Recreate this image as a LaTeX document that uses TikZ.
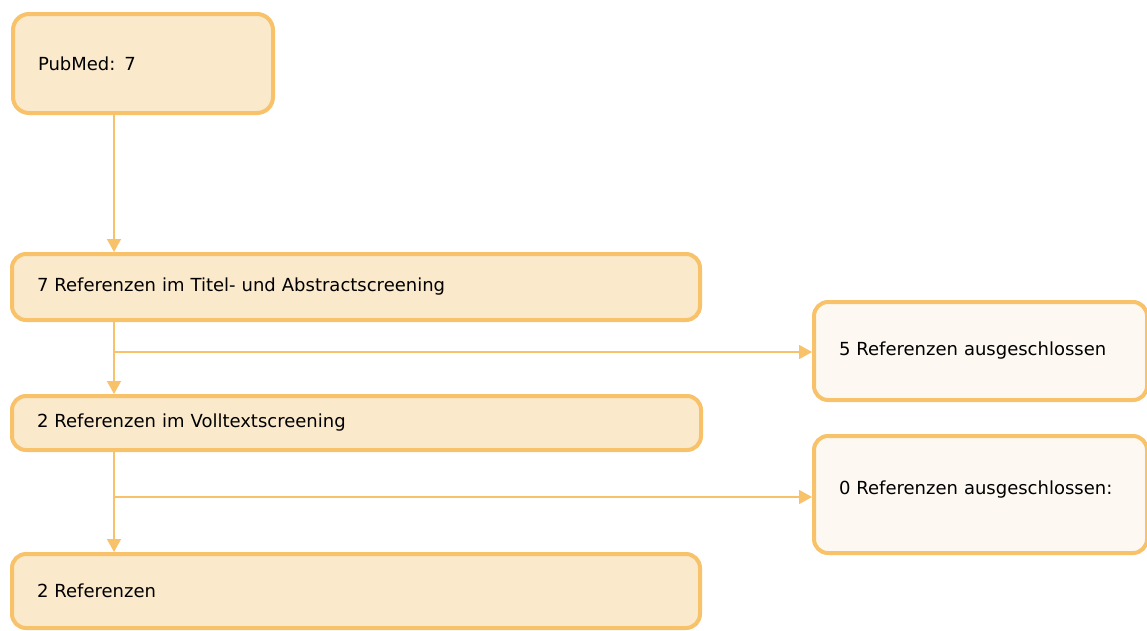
\documentclass[tikz,border=0pt]{standalone}
\usepackage{fontspec}
\setmainfont{DejaVu Sans}
\usetikzlibrary{arrows.meta}
\definecolor{boxline}{HTML}{F7C26A}
\definecolor{boxfill}{HTML}{FBE9CB}
\definecolor{sidefill}{HTML}{FDF9F2}
\begin{document}
\begin{tikzpicture}[x=1pt,y=-1pt,
  stage/.style={draw=boxline, fill=boxfill, line width=4pt, rounded corners=14pt,
    anchor=north west, inner xsep=25pt, inner ysep=0pt, align=left,
    font=\fontsize{18}{21}\selectfont},
  side/.style={stage, fill=sidefill},
  flow/.style={draw=boxline, line width=1.6pt, -{Triangle[width=14pt,length=13pt]}}]
\useasboundingbox (0,0) rectangle (1147,630);
% main column
\node[stage, text width=210pt, minimum height=99pt, rounded corners=16pt] (pub) at (11,12) {PubMed: 7};
\node[stage, text width=638pt, minimum height=66pt] (ta) at (10,252) {7 Referenzen im Titel- und Abstractscreening};
\node[stage, text width=639pt, minimum height=54pt] (vt) at (10,394) {2 Referenzen im Volltextscreening};
\node[stage, text width=638pt, minimum height=74pt] (fin) at (10,552) {2 Referenzen};
% exclusion boxes
\node[side, text width=283pt, minimum height=98pt] (ex1) at (812,300) {5 Referenzen ausgeschlossen};
\node[side, text width=283pt, minimum height=117pt, text depth=14pt] (ex2) at (812,434) {0 Referenzen ausgeschlossen:};
% connectors
\coordinate (b1) at (114,352);
\coordinate (b2) at (114,497);
\draw[flow] (pub.south -| b1) -- (ta.north -| b1);
\draw[flow] (ta.south -| b1) -- (vt.north -| b1);
\draw[flow] (vt.south -| b2) -- (fin.north -| b2);
\draw[flow] (b1) -- (b1 -| ex1.west);
\draw[flow] (b2) -- (b2 -| ex2.west);
\end{tikzpicture}
\end{document}
